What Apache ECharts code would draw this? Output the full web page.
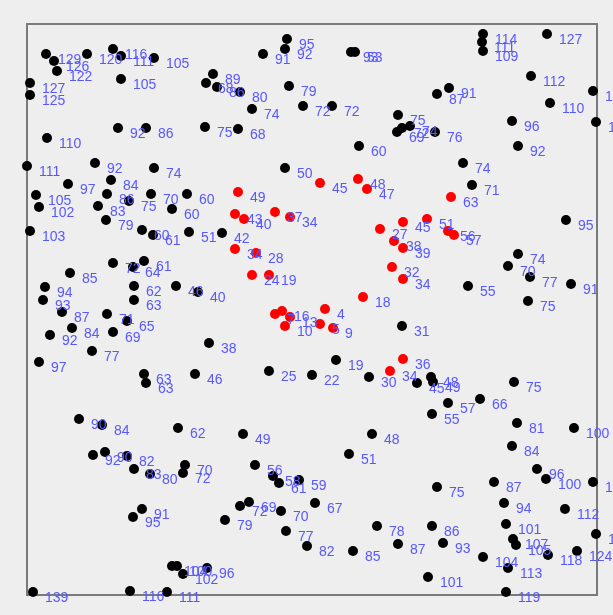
<!DOCTYPE html>
<html>
<head>
<meta charset="utf-8">
<script src="https://cdn.jsdelivr.net/npm/echarts@6/dist/echarts.min.js"></script>
<style>
html,body{margin:0;padding:0;background:#eeeeee;}
#chart{width:613px;height:615px;}
</style>
</head>
<body>
<div id="chart"></div>
<script>
// Black points
const blackX = [19,27,30,60,86,94,127,3,3,94,91,119,20,178,260,258,236,324,328,186,179,190,213,225,262,276,305,211,332,456,455,456,520,504,566,523,569,485,491,422,410,371,375,370,383,408,0,68,127,41,84,9,12,80,102,71,124,160,145,79,115,126,162,3,86,106,117,43,18,107,149,171,16,35,107,80,100,45,23,86,65,12,182,117,119,168,52,75,151,66,78,100,107,123,158,156,115,106,145,150,156,180,6,103,140,258,195,436,445,539,491,481,503,544,441,501,375,309,242,285,342,404,406,390,421,453,405,487,490,547,485,216,345,322,510,519,566,410,467,477,538,479,405,569,486,489,521,550,416,456,481,401,479,228,246,252,272,288,213,222,254,198,259,280,326,350,371];
const blackY = [541,534,524,541,546,539,537,512,500,516,467,467,457,468,556,546,541,543,543,521,512,508,503,486,509,489,489,466,449,561,553,544,561,519,504,492,473,474,449,507,501,480,467,463,469,463,429,432,427,411,415,400,388,401,394,389,401,401,386,375,365,360,363,364,332,328,334,322,308,309,309,303,295,283,295,281,274,267,260,263,244,233,252,221,212,221,176,170,167,140,143,139,126,121,130,122,86,78,29,29,21,27,3,4,3,427,362,432,410,375,341,329,318,311,309,294,269,235,224,220,218,218,213,212,192,196,181,213,172,167,149,161,161,141,126,116,113,108,113,92,86,71,69,61,56,50,40,44,52,38,27,18,3,130,119,112,115,92,89,93,84,75,64,49,44,69,51];
const blackLabels = ["129","126","122","120","116","111","105","127","125","105","92","86","110","75","95","92","91","93","53","89","68","86","80","74","79","72","72","68","60","114","111","109","127","112","115","110","108","96","92","91","87","75","72","69","74","76","111","92","74","97","84","105","102","86","75","83","70","60","60","79","60","61","51","103","72","64","61","85","94","62","46","40","93","87","63","71","65","84","92","69","77","97","38","63","63","46","90","84","62","92","90","82","83","80","70","72","91","95","104","100","102","96","139","116","111","50","42","74","71","95","74","70","77","91","55","75","31","19","25","22","30","48","49","45","57","66","55","75","81","100","84","49","48","51","96","100","109","75","87","94","112","101","86","114","107","105","118","124","93","104","113","101","119","56","58","61","59","67","72","69","70","79","77","82","85","78","87"];

// Red points
const redX = [211,293,331,340,208,217,248,263,208,229,225,242,336,298,293,306,248,255,263,258,353,376,400,421,427,424,367,376,365,376,363,376];
const redY = [403,412,416,406,381,376,383,378,346,342,320,320,298,286,271,267,281,284,278,269,366,373,376,364,360,398,354,347,328,316,224,236];
const redLabels = ["49","45","48","47","43","40","37","34","34","28","24","19","18","4","5","9","7","16","13","10","27","45","51","56","57","63","38","39","32","34","34","36"];

function build(xs, ys, labels) {
  return xs.map((x, i) => ({ value: [x, ys[i]], name: labels[i] }));
}

const SYM = 10;
const labelStyle = {
  show: true,
  position: [SYM / 2 + 12, SYM / 2 + 6.5],
  align: 'left',
  verticalAlign: 'middle',
  formatter: p => p.name,
  color: '#5858ff',
  fontSize: 14,
  fontFamily: '"Liberation Sans", Arial, sans-serif'
};

const chart = echarts.init(document.getElementById('chart'));
chart.setOption({
  backgroundColor: '#eeeeee',
  animation: false,
  grid: {
    left: 27, top: 24, width: 570, height: 571,
    show: true,
    backgroundColor: '#eeeeee',
    borderColor: '#7a7a7a',
    borderWidth: 2
  },
  xAxis: { type: 'value', min: 0, max: 570, show: false },
  yAxis: { type: 'value', min: 0, max: 571, show: false },
  series: [
    {
      type: 'scatter',
      clip: false,
      symbol: 'circle',
      symbolSize: SYM,
      itemStyle: { color: '#000000', opacity: 1 },
      label: labelStyle,
      data: build(blackX, blackY, blackLabels)
    },
    {
      type: 'scatter',
      clip: false,
      symbol: 'circle',
      symbolSize: SYM,
      itemStyle: { color: '#ff0000', opacity: 1 },
      label: labelStyle,
      data: build(redX, redY, redLabels)
    }
  ]
});
</script>
</body>
</html>
